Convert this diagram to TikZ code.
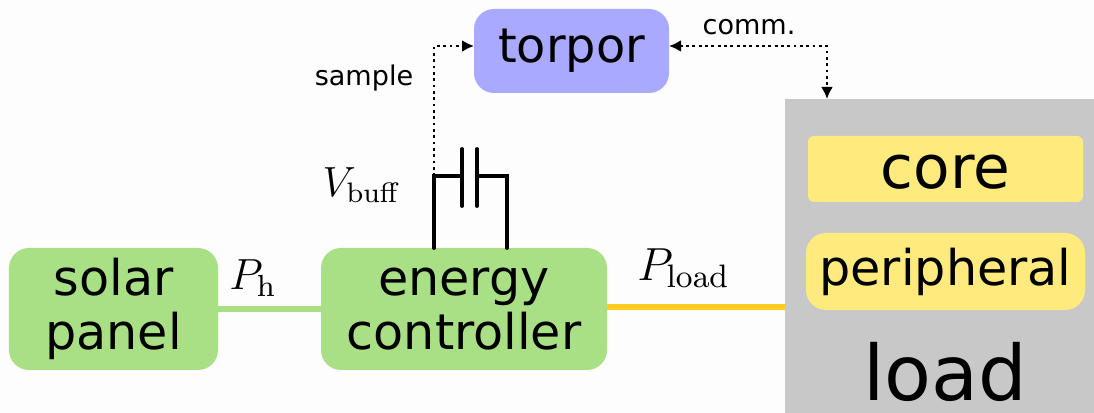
\documentclass[tikz,border=0pt]{standalone}
\usepackage{fix-cm}
\usepackage[no-math]{fontspec}
\setmainfont{DejaVu Sans}
\usetikzlibrary{arrows.meta,calc}
\definecolor{fondo}{HTML}{FDFDFD}
\definecolor{verdeE}{HTML}{A9DF85}
\definecolor{azulT}{HTML}{A9A9FF}
\definecolor{grisL}{HTML}{C8C8C8}
\definecolor{amarilloC}{HTML}{FFEB7D}
\definecolor{doradoL}{HTML}{FFCC22}
\tikzset{
  blockbox/.style={rounded corners=.2cm,inner sep=0pt,outer sep=0pt,align=center,text=black,
    font=\fontsize{14}{15.5}\selectfont},
  sig/.style={densely dotted,line width=.8pt,-{Latex[length=1.2mm,width=1.2mm]}},
  capline/.style={line width=1.1pt,line cap=round},
}
\begin{document}
\begin{tikzpicture}[>=Latex]
  \useasboundingbox (0,0) rectangle (10.94,4.13);
  \fill[fondo] (0,0) rectangle (10.94,4.13);
  \node[blockbox,fill=verdeE,minimum width=2.09cm,minimum height=1.22cm] (solar)
    at (1.135,1.04) {solar\\panel};
  \node[blockbox,fill=verdeE,minimum width=2.86cm,minimum height=1.22cm] (energy)
    at (4.64,1.04) {energy\\controller};
  \node[blockbox,fill=azulT,minimum width=1.95cm,minimum height=.84cm,
    font=\fontsize{13.6}{16}\selectfont] (torpor) at (5.715,3.62) {torpor};
  \node[fill=grisL,inner sep=0pt,outer sep=0pt,minimum width=3.09cm,minimum height=3.14cm] (load)
    at (9.395,1.57) {};
  \node[blockbox,rounded corners=.06cm,fill=amarilloC,minimum width=2.75cm,minimum height=.66cm] (core)
    at (9.455,2.44) {};
  \node[font=\fontsize{17}{19}\selectfont] (coretext) at (9.455,2.41) {core};
  \node[blockbox,fill=amarilloC,minimum width=2.79cm,minimum height=.77cm] (peripheral)
    at (9.455,1.415) {peripheral};
  \node[inner sep=0pt,font=\fontsize{21.8}{24}\selectfont] (loadtext) at (9.455,.41) {load};
  % power lines
  \draw[verdeE,line width=1.6pt] (solar) -- (energy);
  \draw[doradoL,line width=1.6pt] ([yshift=.02cm]energy.east) -- ([yshift=.02cm]energy.east -| load.west);
  % buffer capacitor
  \coordinate (capin) at ($(energy.north)+(-.3,0)$);
  \coordinate (capout) at ($(energy.north)+(.43,0)$);
  \coordinate (capcornerA) at ($(capin)+(0,.72)$);
  \coordinate (capcornerB) at ($(capout)+(0,.72)$);
  \coordinate (plateA) at ($(capcornerA)+(.28,0)$);
  \coordinate (plateB) at ($(capcornerB)+(-.3,0)$);
  \draw[capline] (capin) -- (capcornerA) -- (plateA);
  \draw[capline] (capout) -- (capcornerB) -- (plateB);
  \draw[capline] ($(plateA)+(0,.27)$) -- ($(plateA)+(0,-.3)$);
  \draw[capline] ($(plateB)+(0,.27)$) -- ($(plateB)+(0,-.3)$);
  % signals
  \draw[sig] (capcornerA) |- ([yshift=.05cm]torpor.west);
  \coordinate (loadport) at (8.27,3.14);
  \draw[sig,{Latex[length=1.2mm,width=1.2mm]}-{Latex[length=1.2mm,width=1.2mm]}]
    ([yshift=.05cm]torpor.east) -| (loadport);
  % labels
  \node[font=\fontsize{7.7}{9}\selectfont] (samplelabel) at (3.64,3.35) {sample};
  \node[font=\fontsize{7.7}{9}\selectfont] (commlabel) at (7.49,3.86) {comm.};
  \node[font=\fontsize{12}{14}\selectfont] (vbufflabel) at (3.62,2.28) {$V_{\mathrm{buff}}$};
  \node[font=\fontsize{12.4}{15}\selectfont] (phlabel) at (2.53,1.35) {$P_{\mathrm{h}}$};
  \node[font=\fontsize{13.2}{15}\selectfont] (ploadlabel) at (6.835,1.45) {$P_{\mathrm{load}}$};
\end{tikzpicture}
\end{document}
